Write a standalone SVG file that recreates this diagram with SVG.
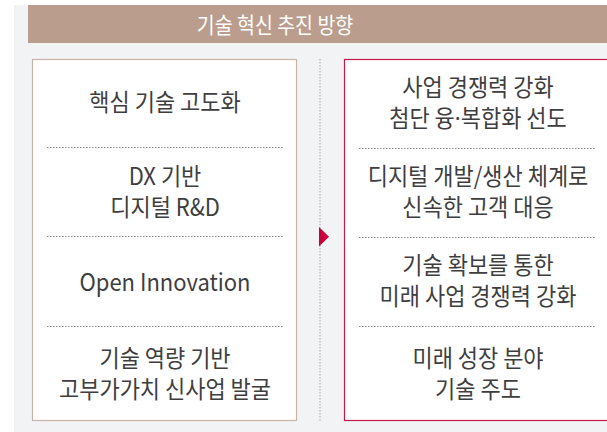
<svg xmlns="http://www.w3.org/2000/svg" width="607" height="432" viewBox="0 0 607 432">
<style>
.t{font-family:"Noto Sans CJK KR","Noto Sans",sans-serif;font-size:22px;fill:#3e3e3e;text-anchor:middle}
.h{font-family:"Noto Sans CJK KR","Noto Sans",sans-serif;font-size:19.5px;fill:#ffffff;text-anchor:middle}
.sep{stroke:#8a8a8a;stroke-width:1;stroke-dasharray:1.5 1.5;fill:none}
.d{font-family:"Noto Sans","Noto Sans CJK KR",sans-serif}
</style>
<rect x="0" y="0" width="607" height="432" fill="#ffffff"/>
<rect x="14" y="5" width="600" height="430" fill="#f2f3f5"/>
<g id="header">
<rect x="28" y="5" width="590" height="38" fill="#bb9d8d"/>
<text class="h" transform="matrix(1 0 0 1.1 275 32.5)">기술 혁신 추진 방향</text>
</g>
<g id="left">
<rect x="32.5" y="59.5" width="264" height="361" fill="#ffffff" stroke="#c9b3a6" stroke-width="1.2"/>
<line class="sep" x1="47" y1="147.5" x2="284" y2="147.5"/>
<line class="sep" x1="47" y1="236.5" x2="284" y2="236.5"/>
<line class="sep" x1="47" y1="326.5" x2="284" y2="326.5"/>
<text class="t" transform="matrix(1 0 0 1.08 165 110.5)">핵심 기술 고도화</text>
<text class="t" transform="matrix(1 0 0 1.08 165 184.5)">DX 기반</text>
<text class="t" transform="matrix(1 0 0 1.08 165 215.5)">디지털 R&amp;D</text>
<text class="t" transform="matrix(1 0 0 1.08 165 290.5)">Open Innovation</text>
<text class="t" transform="matrix(1 0 0 1.08 165 366.5)">기술 역량 기반</text>
<text class="t" transform="matrix(1 0 0 1.08 165 397.5)">고부가가치 신사업 발굴</text>
</g>
<g id="connectors">
<line x1="320" y1="59" x2="320" y2="421" stroke="#a8a8a8" stroke-width="1" stroke-dasharray="1.5 1.5"/>
<polygon points="319,227 329,236.8 319,246.6" fill="#c8003c"/>
</g>
<g id="right">
<rect x="344.5" y="59.5" width="300" height="361" fill="#ffffff" stroke="#c8174c" stroke-width="1.2"/>
<line class="sep" x1="359" y1="148.5" x2="596" y2="148.5"/>
<line class="sep" x1="359" y1="237.5" x2="596" y2="237.5"/>
<line class="sep" x1="359" y1="326.5" x2="596" y2="326.5"/>
<text class="t" transform="matrix(1 0 0 1.08 478 95.5)">사업 경쟁력 강화</text>
<text class="t" transform="matrix(1 0 0 1.08 478 126.5)">첨단 융<tspan class="d">·</tspan>복합화 선도</text>
<text class="t" transform="matrix(1 0 0 1.08 478 184.5)">디지털 개발/생산 체계로</text>
<text class="t" transform="matrix(1 0 0 1.08 478 215.5)">신속한 고객 대응</text>
<text class="t" transform="matrix(1 0 0 1.08 478 273.5)">기술 확보를 통한</text>
<text class="t" transform="matrix(1 0 0 1.08 478 304.5)">미래 사업 경쟁력 강화</text>
<text class="t" transform="matrix(1 0 0 1.08 478 366.5)">미래 성장 분야</text>
<text class="t" transform="matrix(1 0 0 1.08 478 397.5)">기술 주도</text>
</g>
</svg>
